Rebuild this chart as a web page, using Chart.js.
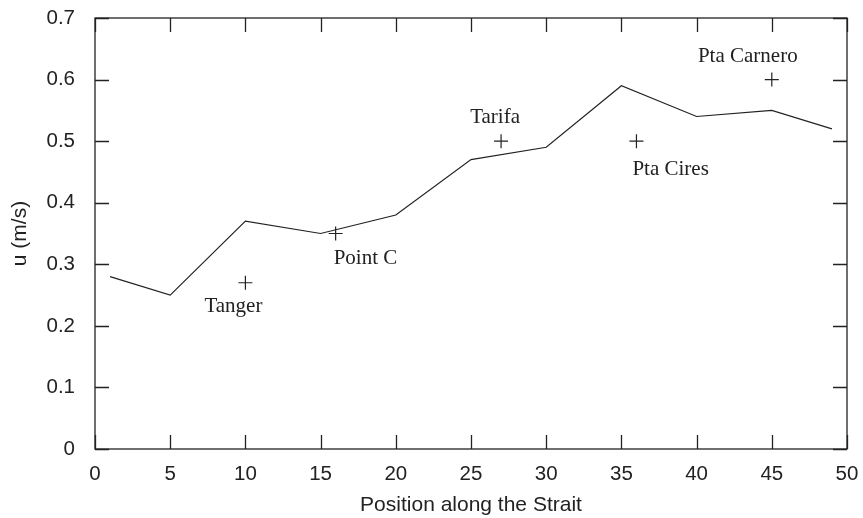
<!DOCTYPE html>
<html>
<head>
<meta charset="utf-8">
<script src="https://cdn.jsdelivr.net/npm/chart.js@4.4.1/dist/chart.umd.min.js"></script>
<style>
  html, body { margin: 0; padding: 0; background: #fff; }
  #wrap { width: 863px; height: 518px; }
</style>
</head>
<body>
<div id="wrap"><canvas id="chart"></canvas></div>
<script>
// model velocity along the strait
const positions = [1, 5, 10, 15, 20, 25, 30, 35, 40, 45, 49];
const velocity = [0.28, 0.25, 0.37, 0.35, 0.38, 0.47, 0.49, 0.59, 0.54, 0.55, 0.52];

// observation sites
const siteNames = ['Tanger', 'Point C', 'Tarifa', 'Pta Cires', 'Pta Carnero'];
const siteX = [10, 16, 27, 36, 45];
const siteY = [0.27, 0.35, 0.5, 0.5, 0.6];

const xTicks = [0, 5, 10, 15, 20, 25, 30, 35, 40, 45, 50];
const yTicks = [0, 0.1, 0.2, 0.3, 0.4, 0.5, 0.6, 0.7];

// label placement relative to each cross (pixels)
const labelOffsets = [
  { dx: -12, dy: 24, align: 'center' },
  { dx: -2, dy: 25, align: 'left' },
  { dx: -6, dy: -24, align: 'center' },
  { dx: -4, dy: 28, align: 'left' },
  { dx: -24, dy: -23, align: 'center' }
];

const ink = '#222';
const TICK = 14;

// frame + inward ticks on all four sides, like gnuplot
const framePlugin = {
  id: 'frame',
  afterDraw(chart) {
    const { ctx, chartArea: a, scales } = chart;
    ctx.save();
    ctx.strokeStyle = ink;
    ctx.lineWidth = 1.3;
    ctx.strokeRect(a.left, a.top, a.right - a.left, a.bottom - a.top);
    ctx.beginPath();
    xTicks.forEach(v => {
      const x = Math.round(scales.x.getPixelForValue(v)) + 0.5;
      ctx.moveTo(x, a.bottom); ctx.lineTo(x, a.bottom - TICK);
      ctx.moveTo(x, a.top); ctx.lineTo(x, a.top + TICK);
    });
    yTicks.forEach(v => {
      const y = Math.round(scales.y.getPixelForValue(v)) + 0.5;
      ctx.moveTo(a.left, y); ctx.lineTo(a.left + TICK, y);
      ctx.moveTo(a.right, y); ctx.lineTo(a.right - TICK, y);
    });
    ctx.stroke();
    ctx.restore();
  }
};

const sitePlugin = {
  id: 'siteLabels',
  afterDatasetsDraw(chart) {
    const { ctx, scales } = chart;
    ctx.save();
    ctx.fillStyle = ink;
    ctx.font = '21px "Liberation Serif", "Times New Roman", serif';
    ctx.textBaseline = 'middle';
    siteNames.forEach((name, i) => {
      const o = labelOffsets[i];
      const x = scales.x.getPixelForValue(siteX[i]) + o.dx;
      const y = scales.y.getPixelForValue(siteY[i]) + o.dy;
      ctx.textAlign = o.align;
      ctx.fillText(name, x, y);
    });
    ctx.restore();
  }
};

const tickFont = { family: '"Liberation Sans", Arial, sans-serif', size: 20.5 };
const titleFont = { family: '"Liberation Sans", Arial, sans-serif', size: 21 };

new Chart(document.getElementById('chart'), {
  data: {
    datasets: [
      {
        type: 'line',
        data: positions.map((x, i) => ({ x, y: velocity[i] })),
        borderColor: ink,
        borderWidth: 1.2,
        pointRadius: 0,
        tension: 0
      },
      {
        type: 'scatter',
        data: siteX.map((x, i) => ({ x, y: siteY[i] })),
        pointStyle: 'cross',
        pointRadius: 7,
        pointHoverRadius: 7,
        borderColor: ink,
        backgroundColor: ink,
        borderWidth: 1.2
      }
    ]
  },
  options: {
    responsive: true,
    maintainAspectRatio: false,
    animation: false,
    layout: { padding: { left: 0, right: 16, top: 18, bottom: 0 } },
    plugins: { legend: { display: false }, tooltip: { enabled: false } },
    scales: {
      x: {
        type: 'linear',
        min: 0,
        max: 50,
        afterBuildTicks: s => { s.ticks = xTicks.map(v => ({ value: v })); },
        afterFit: s => { s.height = 69; s.paddingLeft = 0; s.paddingRight = 0; },
        grid: { display: false, drawTicks: false },
        border: { display: false },
        ticks: { color: ink, font: tickFont, padding: 13, maxRotation: 0 },
        title: {
          display: true,
          text: 'Position along the Strait',
          color: ink,
          font: titleFont,
          padding: { top: 0, bottom: 0 }
        }
      },
      y: {
        type: 'linear',
        min: 0,
        max: 0.7,
        afterBuildTicks: s => { s.ticks = yTicks.map(v => ({ value: v })); },
        afterFit: s => { s.width = 95; s.paddingTop = 0; s.paddingBottom = 0; },
        grid: { display: false, drawTicks: false },
        border: { display: false },
        ticks: { color: ink, font: tickFont, padding: 20, callback: v => String(Math.round(v * 10) / 10) },
        title: {
          display: true,
          text: 'u (m/s)',
          color: ink,
          font: titleFont,
          padding: { top: 8, bottom: 0 }
        }
      }
    }
  },
  plugins: [framePlugin, sitePlugin]
});
</script>
</body>
</html>
